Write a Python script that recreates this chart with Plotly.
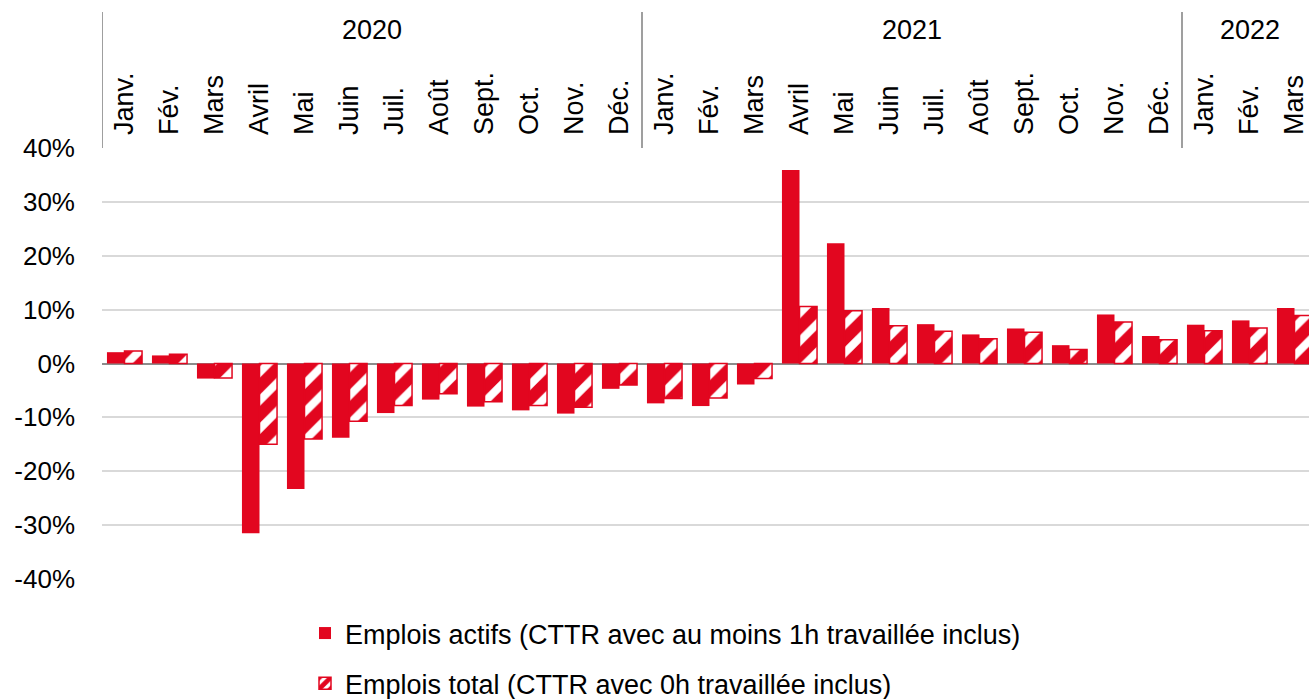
import plotly.graph_objects as go

# Monthly series, January 2020 to March 2022 (year-on-year change, %)
months = ["Janv.", "Fév.", "Mars", "Avril", "Mai", "Juin", "Juil.", "Août", "Sept.", "Oct.", "Nov.", "Déc.",
          "Janv.", "Fév.", "Mars", "Avril", "Mai", "Juin", "Juil.", "Août", "Sept.", "Oct.", "Nov.", "Déc.",
          "Janv.", "Fév.", "Mars"]
years = ["2020", "2021", "2022"]
months_per_year = [12, 12, 3]

emplois_actifs = [2.1, 1.5, -2.8, -31.5, -23.3, -13.8, -9.2, -6.7, -8.0, -8.7, -9.3, -4.7,
                  -7.4, -7.9, -3.9, 35.9, 22.3, 10.3, 7.3, 5.4, 6.5, 3.4, 9.1, 5.1,
                  7.2, 8.0, 10.3]
emplois_total = [2.3, 1.7, -2.7, -15.0, -14.0, -10.7, -7.8, -5.6, -7.1, -7.8, -8.1, -4.0,
                 -6.5, -6.4, -2.8, 10.6, 9.8, 7.0, 6.0, 4.6, 5.8, 2.6, 7.7, 4.4,
                 6.1, 6.6, 8.9]

y_ticks = [-40, -30, -20, -10, 0, 10, 20, 30, 40]
y_tick_labels = ["-40%", "-30%", "-20%", "-10%", "0%", "10%", "20%", "30%", "40%"]

RED = "#E2061F"
FONT = "Liberation Sans"
FS = 26
FS_BIG = 27

x = list(range(len(months)))

fig = go.Figure()
fig.add_trace(go.Bar(
    x=x, y=emplois_actifs,
    name="Emplois actifs (CTTR avec au moins 1h travaillée inclus)",
    marker=dict(color=RED, line=dict(width=0)),
    legendgroup="a",
))
fig.add_trace(go.Bar(
    x=x, y=emplois_total,
    name="Emplois total (CTTR avec 0h travaillée inclus)",
    marker=dict(color="white", line=dict(color=RED, width=1.5),
                pattern=dict(shape="/", fgcolor=RED, bgcolor="white", fgopacity=1,
                             size=20, solidity=0.6)),
    legendgroup="b",
))

W, H = 1309, 699
L, R, T, B = 102, 0, 148, 120
plot_h = H - T - B
cat_px = 45.0
x_max = -0.5 + (W - L - R) / cat_px


def ypaper(py):
    return 1 + (T - py) / plot_h


# Year separators and year labels above the month labels
shapes = []
annotations = []
start = 0
for yr, n in zip(years, months_per_year):
    shapes.append(dict(type="line", xref="x", yref="paper", x0=start - 0.5, x1=start - 0.5,
                       y0=1, y1=ypaper(12), line=dict(color="#7f7f7f", width=1.5)))
    annotations.append(dict(x=start - 0.5 + n / 2, y=ypaper(30), xref="x", yref="paper",
                            text=yr, showarrow=False, xanchor="center", yanchor="middle",
                            font=dict(family=FONT, size=FS_BIG, color="#000")))
    start += n

fig.update_layout(
    width=W, height=H,
    margin=dict(l=L, r=R, t=T, b=B, pad=0),
    paper_bgcolor="white", plot_bgcolor="white",
    barmode="group", bargap=0.22, bargroupgap=0,
    font=dict(family=FONT, size=FS, color="#000"),
    shapes=shapes, annotations=annotations,
    showlegend=True,
    legend=dict(orientation="v", xref="paper", yref="container",
                x=(305 - L) / (W - L), y=1 - 609 / H, xanchor="left", yanchor="top",
                font=dict(family=FONT, size=FS_BIG, color="#000"), tracegroupgap=12,
                bgcolor="rgba(0,0,0,0)"),
)
fig.update_xaxes(
    side="top", range=[-0.5, x_max],
    tickmode="array", tickvals=x, ticktext=months, tickangle=-90,
    ticklabelstandoff=12, ticklabeloverflow="allow",
    ticks="", showgrid=False, zeroline=False, showline=False,
    tickfont=dict(family=FONT, size=FS_BIG, color="#000"),
)
fig.update_yaxes(
    range=[-40, 40], tickmode="array", tickvals=y_ticks, ticktext=y_tick_labels,
    showgrid=True, gridcolor="#d9d9d9", gridwidth=1.5,
    zeroline=True, zerolinecolor="#8c8c8c", zerolinewidth=2,
    showline=False, ticks="", ticklabelstandoff=26,
    tickfont=dict(family=FONT, size=FS, color="#000"),
)

fig.write_html("out.html")
